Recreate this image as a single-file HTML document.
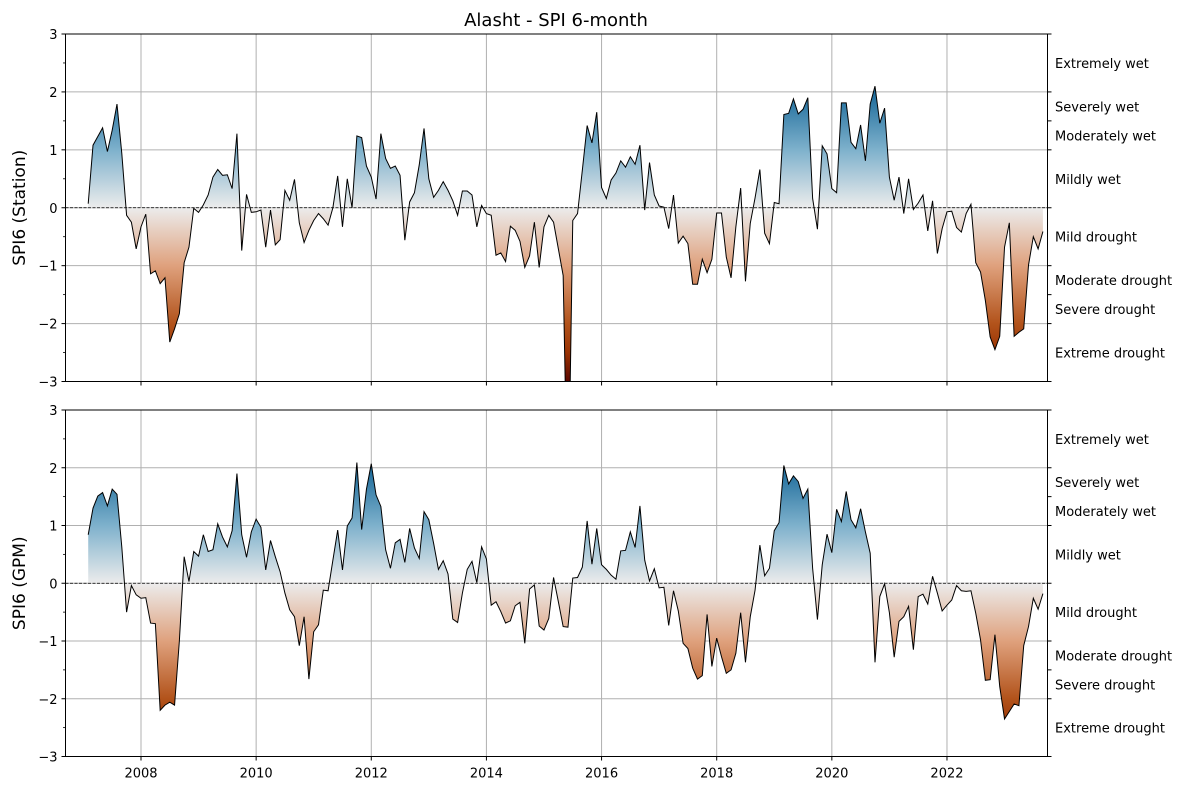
<!DOCTYPE html>
<html><head><meta charset="utf-8">
<style>
html,body{margin:0;padding:0;background:#fff;}
svg{display:block;font-family:"DejaVu Sans","Liberation Sans",sans-serif;}
</style></head>
<body>
<svg id="chart" width="1190" height="790" viewBox="0 0 1190 790" xmlns="http://www.w3.org/2000/svg">
<defs>
<linearGradient id="gradTop" gradientUnits="userSpaceOnUse" x1="0" y1="34" x2="0" y2="381.5">
<stop offset="0" stop-color="#08456f"/><stop offset="0.1667" stop-color="#1b6a9a"/><stop offset="0.3333" stop-color="#7eb1cc"/><stop offset="0.5" stop-color="#ececec"/><stop offset="0.6667" stop-color="#dfa17d"/><stop offset="0.8333" stop-color="#b2531b"/><stop offset="0.9167" stop-color="#9a3303"/><stop offset="1" stop-color="#5c0700"/>
</linearGradient>
<linearGradient id="gradBot" gradientUnits="userSpaceOnUse" x1="0" y1="410" x2="0" y2="756.5">
<stop offset="0" stop-color="#08456f"/><stop offset="0.1667" stop-color="#1b6a9a"/><stop offset="0.3333" stop-color="#7eb1cc"/><stop offset="0.5" stop-color="#ececec"/><stop offset="0.6667" stop-color="#dfa17d"/><stop offset="0.8333" stop-color="#b2531b"/><stop offset="0.9167" stop-color="#9a3303"/><stop offset="1" stop-color="#5c0700"/>
</linearGradient>
<clipPath id="clipTop"><rect x="65.5" y="34" width="982" height="347.5"/></clipPath>
<clipPath id="clipBot"><rect x="65.5" y="410" width="982" height="346.5"/></clipPath>
</defs>
<text x="556" y="26" font-size="18" text-anchor="middle">Alasht - SPI 6-month</text>
<g id="layer"></g>
</svg>
<script>
const stationValues = [0.07,1.08,1.23,1.38,0.97,1.34,1.79,0.94,-0.13,-0.25,-0.71,-0.33,-0.11,-1.14,-1.09,-1.31,-1.21,-2.32,-2.09,-1.83,-0.95,-0.68,-0.01,-0.08,0.05,0.22,0.53,0.66,0.56,0.57,0.33,1.28,-0.74,0.23,-0.08,-0.07,-0.04,-0.68,-0.04,-0.64,-0.55,0.30,0.13,0.49,-0.26,-0.60,-0.39,-0.22,-0.10,-0.19,-0.30,
0.0,0.55,-0.33,0.50,0.0,1.24,1.21,0.72,0.53,0.15,1.28,0.85,0.68,0.72,0.56,-0.56,0.10,0.26,0.74,1.37,0.50,0.18,0.30,0.45,0.30,0.12,-0.13,0.29,0.29,0.22,-0.33,0.04,-0.10,-0.13,-0.82,-0.78,-0.93,-0.32,-0.39,-0.58,-1.03,-0.83,-0.25,-1.03,-0.33,-0.13,-0.25,-0.71,-1.17,
-5.5,
-0.22,-0.10,0.65,1.42,1.12,1.65,0.35,0.16,0.48,0.60,0.81,0.70,0.88,0.75,1.08,-0.04,0.78,0.22,0.03,0.01,-0.36,0.22,-0.61,-0.49,-0.62,-1.32,-1.32,-0.89,-1.12,-0.89,-0.09,-0.09,-0.85,-1.21,-0.33,0.34,-1.27,-0.27,0.17,0.66,-0.44,-0.62,0.09,0.07,1.61,1.63,1.88,1.62,1.70,1.90,
0.16,-0.37,1.07,0.93,0.33,0.26,1.81,1.81,1.13,1.02,1.43,0.81,1.79,2.10,1.46,1.72,0.53,0.13,0.53,-0.10,0.50,-0.03,0.08,0.22,-0.40,0.12,-0.79,-0.36,-0.07,-0.06,-0.34,-0.42,-0.10,0.06,-0.95,-1.11,-1.60,-2.23,-2.45,-2.22,-0.68,-0.26,-2.22,-2.15,-2.09,-0.99,-0.50,-0.71,-0.41];
const gpmValues = [0.84,1.30,1.51,1.57,1.34,1.63,1.54,0.63,-0.50,-0.04,-0.20,-0.26,-0.25,-0.69,-0.70,-2.20,-2.11,-2.06,-2.11,-1.0,0.46,0.03,0.55,0.47,0.84,0.55,0.58,1.03,0.80,0.63,0.91,1.90,0.84,0.45,0.89,1.11,0.97,0.23,0.74,0.46,0.20,-0.17,-0.46,-0.58,-1.08,-0.58,-1.66,-0.84,-0.72,-0.12,-0.13,
0.40,0.92,0.23,0.99,1.13,2.09,0.93,1.63,2.07,1.53,1.33,0.58,0.26,0.70,0.76,0.36,0.95,0.61,0.43,1.24,1.10,0.69,0.24,0.39,0.16,-0.62,-0.68,-0.17,0.24,0.38,0.01,0.63,0.42,-0.38,-0.32,-0.49,-0.69,-0.65,-0.39,-0.33,-1.04,-0.10,-0.03,-0.74,-0.81,-0.61,0.10,-0.32,-0.75,-0.76,
0.09,0.10,0.28,1.08,0.33,0.95,0.32,0.24,0.14,0.07,0.56,0.57,0.89,0.62,1.34,0.40,0.04,0.25,-0.08,-0.07,-0.73,-0.13,-0.48,-1.04,-1.13,-1.47,-1.66,-1.60,-0.54,-1.44,-0.95,-1.27,-1.56,-1.50,-1.21,-0.51,-1.37,-0.58,-0.12,0.66,0.13,0.26,0.91,1.05,2.04,1.72,1.86,1.76,1.47,1.63,
0.26,-0.63,0.32,0.85,0.53,1.28,1.07,1.59,1.10,0.96,1.29,0.89,0.52,-1.37,-0.23,-0.01,-0.51,-1.28,-0.66,-0.58,-0.40,-1.15,-0.23,-0.19,-0.36,0.12,-0.17,-0.48,-0.38,-0.29,-0.04,-0.13,-0.14,-0.13,-0.52,-0.98,-1.68,-1.67,-0.89,-1.79,-2.35,-2.22,-2.09,-2.12,-1.08,-0.75,-0.26,-0.45,-0.18];
const startYear = 2007.083;
const xTickYears = [2008,2010,2012,2014,2016,2018,2020,2022];
const yTicks = [-3,-2,-1,0,1,2,3];
const yMinorTicks = [-2.5,-1.5,-0.5,0.5,1.5,2.5];
const classBounds = [-3,-2,-1.5,-1,0,1,1.5,2,3];
const classNames = ["Extreme drought","Severe drought","Moderate drought","Mild drought","Mildly wet","Moderately wet","Severely wet","Extremely wet"];
const classMids = [-2.5,-1.75,-1.25,-0.5,0.5,1.25,1.75,2.5];

const NS="http://www.w3.org/2000/svg";
const layer=document.getElementById('layer');
const X0=65.5,X1=1047.5;
function xScale(t){return 141+(t-2008)*57.57;}
function mk(tag,attrs,parent){const e=document.createElementNS(NS,tag);for(const k in attrs)e.setAttribute(k,attrs[k]);(parent||layer).appendChild(e);return e;}

function panel(values,top,bottom,grad,clip,label,showX,key){
  const g=mk('g',{});
  
  
  const yScale=v=>top+(3-v)/6*(bottom-top);
  xTickYears.forEach(yr=>{const l=mk('line',{x1:xScale(yr),x2:xScale(yr),y1:top,y2:bottom,stroke:'#b0b0b0','stroke-width':1},g);
    });
  yTicks.forEach(v=>{const l=mk('line',{x1:X0,x2:X1,y1:yScale(v),y2:yScale(v),stroke:'#b0b0b0','stroke-width':1},g);
    });
  const pts=values.map((v,i)=>[xScale(startYear+i/12),yScale(v)]);
  const y0=yScale(0);
  let d='M'+pts[0][0].toFixed(2)+','+y0;
  pts.forEach(p=>{d+=' L'+p[0].toFixed(2)+','+p[1].toFixed(2);});
  d+=' L'+pts[pts.length-1][0].toFixed(2)+','+y0+' Z';
  const f=mk('path',{d:d,fill:'url(#'+grad+')',stroke:'none','clip-path':'url(#'+clip+')'},g);
  
  const z=mk('line',{x1:X0,x2:X1,y1:y0,y2:y0,stroke:'#000','stroke-width':0.8,'stroke-dasharray':'3,1.5'},g);
  
  const ln=mk('polyline',{points:pts.map(p=>p[0].toFixed(2)+','+p[1].toFixed(2)).join(' '),fill:'none',stroke:'#000','stroke-width':1,'stroke-linejoin':'miter','clip-path':'url(#'+clip+')'},g);
  
  const fr=mk('rect',{x:X0,y:top,width:X1-X0,height:bottom-top,fill:'none',stroke:'#000','stroke-width':1},g);
  
  yTicks.forEach(v=>{mk('line',{x1:X0-4,x2:X0,y1:yScale(v),y2:yScale(v),stroke:'#000','stroke-width':1},g);
    const t=mk('text',{x:X0-8,y:yScale(v)+5,'font-size':13,'text-anchor':'end'},g);
    
    t.textContent=(v<0?'\u2212'+(-v):String(v));});
  yMinorTicks.forEach(v=>{mk('line',{x1:X0-2.5,x2:X0,y1:yScale(v),y2:yScale(v),stroke:'#000','stroke-width':0.8},g);});
  classBounds.forEach(v=>{mk('line',{x1:X1,x2:X1+4,y1:yScale(v),y2:yScale(v),stroke:'#000','stroke-width':1},g);});
  classNames.forEach((n,i)=>{const t=mk('text',{x:1055,y:yScale(classMids[i])+5,'font-size':13},g);
    t.textContent=n;});
  xTickYears.forEach(yr=>{mk('line',{x1:xScale(yr),x2:xScale(yr),y1:bottom,y2:bottom+4,stroke:'#000','stroke-width':1},g);
    if(showX){const t=mk('text',{x:xScale(yr),y:bottom+21,'font-size':13,'text-anchor':'middle'},g);
      t.textContent=String(yr);}});
  const cy=(top+bottom)/2;
  const yt=mk('text',{x:25,y:cy,'font-size':17,'text-anchor':'middle',transform:'rotate(-90 25 '+cy+')'},g);
  
  yt.textContent=label;
}
panel(stationValues,34,381.5,'gradTop','clipTop','SPI6 (Station)',false,'station');
panel(gpmValues,410,756.5,'gradBot','clipBot','SPI6 (GPM)',true,'gpm');
</script>
</body></html>
